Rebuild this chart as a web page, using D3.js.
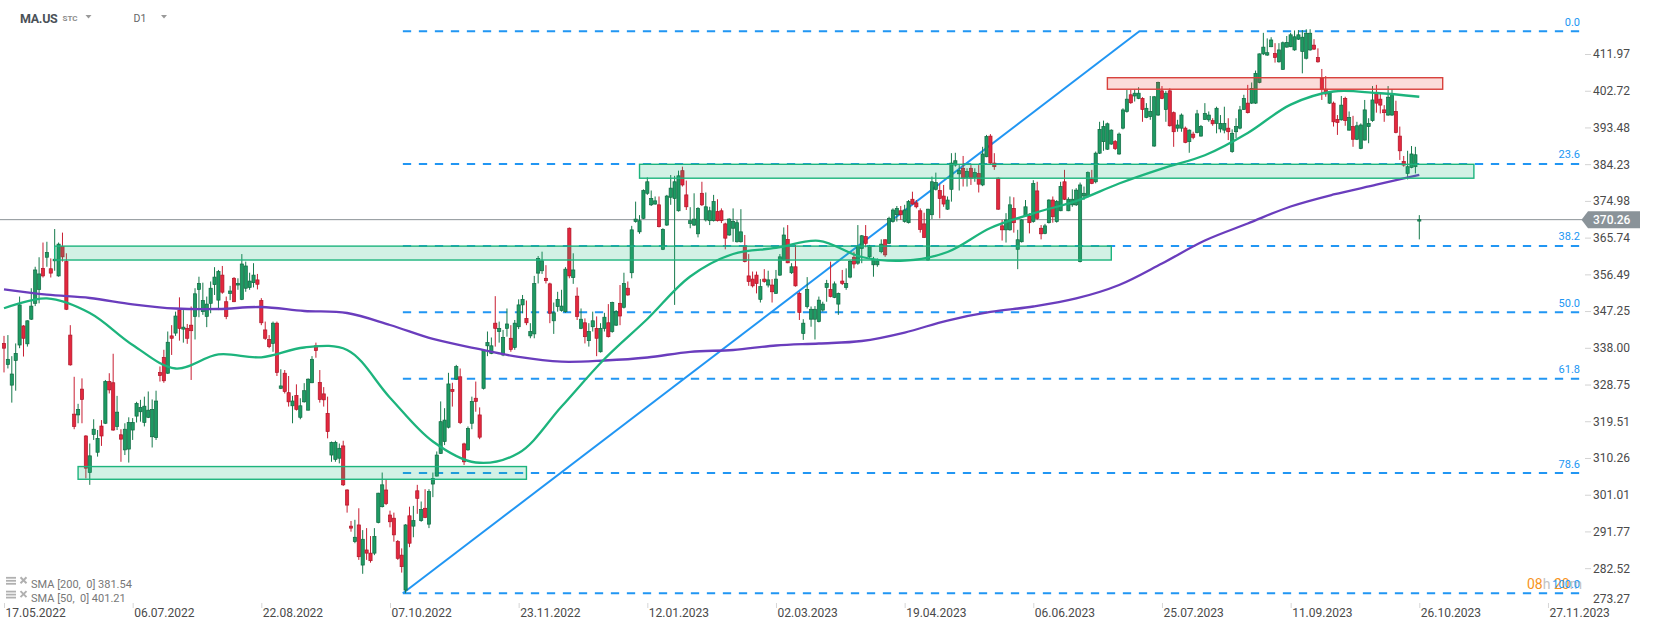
<!DOCTYPE html>
<html><head><meta charset="utf-8">
<script src="https://cdn.jsdelivr.net/npm/d3@7"></script>
<style>body{margin:0;background:#fff;overflow:hidden}svg{display:block;font-family:Roboto,"Noto Sans",Arial,sans-serif}</style>
</head><body><svg id="c" width="1653" height="630"></svg>
<script>
// ---- DATA ----
const open=[339.1,333.8,328.6,334.8,338.7,343.5,339.0,345.2,349.2,352.7,
358.0,360.8,357.9,359.9,356.1,363.5,359.7,341.2,321.3,321.1,
327.6,315.8,306.6,316.2,311.7,318.3,319.0,329.5,329.2,318.2,
316.1,312.3,312.5,317.3,320.8,321.9,319.2,320.5,315.6,315.4,
331.8,335.6,331.6,341.0,341.7,347.5,342.7,342.9,343.7,345.9,
352.7,347.1,345.9,349.2,353.9,350.0,356.3,349.6,351.7,355.5,
353.8,350.2,353.0,353.2,354.4,355.1,349.9,342.5,340.1,339.1,
344.2,327.8,331.6,326.7,323.4,326.0,320.5,324.4,322.3,329.2,
338.5,329.3,326.4,321.5,311.0,309.9,310.2,313.3,302.2,293.1,
289.2,293.4,283.3,287.1,286.3,286.3,294.0,298.0,302.2,295.9,
295.1,289.2,285.8,277.0,295.7,293.1,302.0,294.5,297.6,293.6,
303.7,305.7,311.4,314.4,318.0,327.5,330.1,330.7,313.8,312.3,
319.0,325.3,321.1,327.8,338.5,336.6,344.2,342.1,336.2,342.9,
340.4,338.1,343.3,348.8,345.4,341.0,341.5,356.8,357.4,355.5,
354.1,344.8,348.4,347.4,347.1,368.1,355.7,351.0,342.9,344.3,
339.8,343.3,342.9,337.0,342.9,344.3,342.1,343.7,349.2,348.2,
353.0,356.9,369.8,367.2,370.6,376.9,374.0,374.2,374.0,362.8,
368.9,375.9,375.6,372.5,382.6,376.5,369.3,368.9,366.7,376.9,
370.2,370.0,370.0,372.3,372.5,369.2,366.4,368.1,364.7,364.7,
363.5,356.1,355.3,356.3,350.2,355.3,353.8,353.8,351.7,356.3,
360.1,365.3,356.9,358.4,351.7,341.6,348.4,345.2,345.2,344.6,
347.5,353.2,352.7,350.7,349.0,354.8,353.2,355.8,360.8,359.3,
363.0,366.0,360.9,358.9,358.9,362.2,365.2,364.3,369.8,371.5,
372.5,369.8,369.5,375.4,374.5,372.5,369.2,360.1,371.5,377.9,
377.6,376.2,372.9,377.9,384.0,381.8,383.2,380.9,383.2,380.9,
381.9,379.0,386.1,391.3,384.5,380.7,368.7,367.7,367.7,373.1,
362.8,364.7,371.2,371.2,369.8,377.5,368.1,366.8,369.5,375.2,
369.8,372.5,379.8,372.5,374.0,374.0,359.7,376.2,376.1,380.4,
379.8,387.0,389.9,388.0,389.3,389.9,386.8,393.3,397.5,401.7,
401.4,400.8,400.8,396.0,396.2,388.8,396.6,402.7,398.0,402.7,
397.2,393.3,393.3,393.3,389.9,391.8,392.2,391.3,395.5,395.4,
395.2,394.5,393.1,392.8,393.3,387.4,392.4,393.3,398.0,399.6,
399.6,399.6,404.8,412.0,411.7,413.8,412.1,410.0,408.1,413.7,
413.8,413.0,415.7,412.6,410.9,413.0,414.2,411.1,405.9,403.1,
399.6,399.6,395.5,395.4,400.8,392.8,393.7,390.5,388.2,390.3,
393.7,395.2,401.9,400.6,397.9,396.6,396.6,397.5,391.3,384.9,
381.9,383.4,383.6,369.9];
const high=[341.0,341.2,335.9,339.1,350.9,343.7,344.9,353.0,358.4,360.8,
364.5,364.7,360.5,367.9,364.5,367.0,361.8,343.7,330.7,323.9,
330.3,316.0,313.9,320.0,317.3,319.8,329.9,331.6,336.5,325.9,
317.5,319.0,320.5,320.3,324.4,324.9,325.7,327.0,325.0,327.2,
333.3,337.5,342.1,343.7,347.1,350.7,347.5,344.0,348.4,353.0,
355.9,354.4,350.9,354.7,358.3,357.6,358.6,350.9,353.6,355.8,
355.5,361.6,359.7,356.9,359.3,356.6,350.5,344.6,341.2,344.6,
344.6,332.6,332.4,330.9,325.9,328.8,325.3,329.1,330.3,335.9,
339.3,332.4,328.1,325.7,314.4,314.6,313.9,314.6,302.4,294.4,
294.7,297.6,292.1,292.6,290.6,292.6,301.5,306.6,304.9,297.0,
296.5,289.6,287.5,293.6,298.0,298.2,303.5,299.3,302.4,302.4,
306.6,311.9,324.5,322.8,331.7,329.2,333.7,332.8,314.1,318.2,
325.7,329.5,323.0,337.6,342.1,340.6,351.0,344.6,342.5,347.9,
343.7,345.0,350.2,351.3,349.9,344.2,356.1,361.1,362.2,358.8,
354.4,349.4,352.1,352.6,358.3,368.3,361.8,353.2,347.9,345.4,
344.2,347.1,345.9,344.2,346.8,349.0,349.6,347.5,353.8,356.9,
354.7,368.7,374.8,371.4,377.9,380.9,377.6,376.1,376.1,368.1,
376.5,381.5,381.3,382.6,383.6,380.1,373.4,376.9,373.4,379.8,
377.1,373.5,376.5,375.4,373.1,369.5,370.6,373.1,370.2,372.9,
366.4,361.6,357.2,357.2,355.3,357.8,357.4,355.3,357.6,361.6,
368.3,368.9,359.3,363.9,352.1,345.2,355.8,348.4,348.5,350.9,
349.6,355.1,359.7,354.7,351.9,357.6,358.0,360.1,362.2,368.9,
366.4,368.9,363.9,360.9,360.5,365.3,365.3,371.0,373.1,373.7,
373.7,374.0,375.2,377.3,375.2,373.1,372.0,373.0,381.1,382.1,
379.2,379.0,376.1,387.0,387.1,384.0,386.3,383.2,384.0,383.2,
384.0,388.6,391.6,391.8,387.0,380.9,370.2,371.9,376.1,375.9,
367.7,370.4,375.2,371.9,380.2,379.8,368.9,369.2,375.4,376.1,
375.2,379.8,382.8,375.9,377.9,378.2,379.6,378.6,382.4,382.8,
387.4,394.9,395.2,394.7,393.0,390.3,392.2,398.3,402.9,402.9,
403.1,403.6,401.1,399.6,401.4,401.4,405.0,403.9,402.7,403.3,
397.5,395.4,397.0,393.7,393.0,392.4,397.9,394.1,399.6,397.5,
395.8,398.7,396.6,398.7,395.8,393.0,395.8,398.9,401.7,404.2,
404.8,407.8,412.1,417.3,415.9,416.2,414.7,414.7,415.1,416.5,
417.3,417.9,418.0,418.0,418.2,418.2,415.7,413.4,408.2,406.4,
402.5,400.0,396.6,401.4,401.2,397.5,396.4,394.9,394.5,400.4,
395.8,403.9,404.2,402.2,399.1,403.9,403.1,400.2,393.7,386.3,
387.6,388.8,388.6,371.4];
const low=[331.8,332.8,324.2,327.2,337.9,335.8,338.3,345.0,348.5,349.2,
355.7,358.4,355.7,357.4,355.9,359.7,347.5,333.5,317.5,319.0,
319.0,305.1,303.5,314.8,310.6,313.3,318.8,326.5,317.1,317.3,
309.3,311.0,309.1,314.8,319.2,319.4,318.2,320.3,312.9,314.8,
329.5,329.2,331.4,336.2,341.0,339.8,339.3,339.0,329.9,340.1,
345.7,346.3,343.2,346.7,351.3,347.5,351.6,345.2,350.0,349.5,
352.6,350.0,352.1,352.6,353.2,352.7,343.7,340.0,337.9,337.0,
330.9,327.6,326.5,323.2,319.0,322.2,320.0,324.2,322.2,329.1,
335.5,324.2,323.2,315.2,309.3,309.3,308.9,303.2,296.5,291.7,
288.8,284.6,281.1,284.6,283.9,285.8,293.8,297.8,298.4,292.8,
289.2,284.6,281.4,276.2,287.8,290.3,296.2,294.2,295.1,292.6,
300.4,305.6,311.3,313.5,317.7,323.2,329.9,318.8,308.5,312.1,
317.5,321.9,315.0,327.5,335.9,336.4,338.3,339.3,335.9,340.8,
337.0,337.5,342.7,346.7,343.7,340.4,340.4,354.2,356.6,354.2,
344.2,341.5,347.1,347.1,346.8,355.5,354.1,345.0,342.7,339.1,
338.3,342.1,335.9,336.8,342.1,340.6,341.8,343.5,343.7,347.9,
351.1,355.5,369.5,366.7,370.4,376.5,373.7,374.0,368.3,362.6,
368.7,374.0,348.8,372.3,378.6,372.7,368.1,368.7,365.8,373.7,
369.8,368.9,369.8,369.8,369.4,362.8,366.2,364.7,364.5,364.5,
359.5,353.6,353.2,351.7,349.4,354.4,353.2,349.4,351.6,356.1,
359.9,359.3,356.6,353.4,345.0,340.0,347.9,343.3,340.1,344.4,
347.1,349.6,350.7,350.5,346.3,353.8,352.6,355.5,358.0,358.9,
359.3,363.3,360.5,355.9,358.4,361.8,360.9,364.1,369.5,369.8,
370.2,369.5,369.3,374.0,373.1,367.0,365.7,359.9,370.4,377.6,
370.6,373.5,372.7,374.8,383.6,377.6,378.6,378.6,379.0,379.8,
377.1,378.7,386.0,384.3,382.8,372.7,365.0,364.5,367.5,367.0,
357.8,364.5,371.0,366.8,369.5,370.2,365.3,366.6,369.3,369.5,
369.5,372.4,375.2,372.4,373.5,373.7,359.5,375.2,375.9,379.2,
379.4,386.8,387.6,387.8,389.1,387.8,386.6,393.0,397.2,399.4,
400.0,400.6,394.9,395.8,395.4,388.6,396.4,400.6,394.9,393.7,
388.6,392.4,392.4,389.5,387.1,390.5,392.0,391.2,395.4,394.9,
393.9,392.0,392.2,392.0,390.3,387.1,390.8,393.0,397.9,397.0,
399.4,399.4,404.6,411.7,411.5,413.7,409.8,409.8,408.0,413.6,
413.7,412.8,415.5,407.1,410.6,412.8,413.0,409.8,400.4,401.2,
399.4,393.7,391.6,395.2,393.9,392.7,388.6,390.3,388.0,390.2,
389.5,394.9,397.2,397.0,394.9,396.4,396.4,392.0,385.3,383.6,
380.4,383.2,381.9,365.3];
const close=[337.9,335.1,331.4,336.6,348.8,340.4,344.8,348.5,357.6,356.6,
356.1,362.0,356.8,360.3,364.1,360.9,347.7,333.7,318.2,322.5,
325.0,307.7,310.8,317.5,315.2,315.8,329.5,327.4,317.3,321.8,
315.0,317.5,319.2,319.2,324.0,323.0,323.3,322.3,322.5,324.6,
331.0,329.7,339.4,340.4,346.0,342.9,343.2,340.4,342.3,351.6,
354.2,349.9,349.0,353.0,355.8,357.2,352.0,345.9,352.3,349.6,
354.2,359.1,358.6,354.8,356.3,354.0,344.3,340.4,338.3,344.2,
331.8,328.4,327.0,324.4,324.6,322.5,323.4,327.2,330.1,335.1,
337.3,325.0,324.9,316.9,314.2,314.2,312.7,303.5,298.4,292.6,
290.3,285.4,289.8,286.3,284.4,290.5,301.4,303.5,298.8,294.2,
290.9,285.0,282.9,293.4,288.8,294.5,300.1,297.3,295.3,301.8,
305.1,311.0,319.4,319.8,328.9,327.0,333.3,319.2,309.3,317.7,
324.5,324.5,315.5,337.3,339.3,338.5,342.9,342.9,340.6,344.0,
337.6,344.2,348.8,350.2,344.3,342.1,354.2,360.5,359.9,354.9,
346.7,346.8,350.2,348.5,357.8,356.1,357.6,345.9,345.2,340.8,
342.1,344.8,340.4,342.9,345.7,340.8,349.4,347.1,346.0,354.2,
351.3,367.7,370.4,370.0,377.6,379.8,375.6,375.0,368.5,367.8,
376.2,378.2,379.8,381.3,379.0,373.5,370.0,370.4,373.1,374.0,
373.5,372.5,374.8,370.0,370.0,365.6,370.4,369.8,369.5,367.2,
359.7,354.7,353.6,354.2,353.4,354.7,355.1,352.1,355.3,360.9,
366.4,359.4,358.4,353.6,346.9,344.2,352.7,347.7,347.7,350.0,
349.0,354.2,350.9,354.1,351.7,354.2,354.2,359.7,359.1,363.5,
366.2,364.3,363.6,360.3,359.9,364.1,361.4,370.6,372.7,373.1,
371.5,372.7,374.8,374.2,373.5,367.8,365.8,372.9,379.8,379.6,
375.6,374.2,375.2,384.5,385.1,382.6,380.7,382.4,380.7,382.1,
379.2,386.8,391.2,384.5,383.6,372.9,367.7,370.2,374.0,369.5,
365.2,370.2,373.5,369.5,379.4,370.6,366.7,368.7,375.2,371.0,
374.8,378.6,375.4,375.4,375.4,377.7,379.0,376.9,382.1,379.4,
387.0,393.0,393.7,394.4,392.8,388.2,391.8,397.9,400.6,399.7,
402.1,402.1,398.0,398.3,397.5,401.2,404.8,400.8,402.1,393.9,
392.4,394.1,396.6,389.7,392.8,391.0,396.9,393.7,397.0,396.6,
394.4,398.3,394.5,394.5,392.4,392.0,393.7,397.9,400.8,397.2,
403.3,407.1,412.0,413.7,412.3,415.5,411.1,413.0,414.8,414.9,
416.8,416.3,416.8,416.2,417.2,417.2,413.2,410.0,403.1,401.9,
402.1,394.9,394.7,399.1,395.2,396.0,390.5,393.9,394.1,397.9,
394.5,400.4,399.6,399.1,397.2,401.1,401.7,392.2,387.6,384.0,
383.6,386.8,386.6,370.26];

// SMA values read every 11 bars
const smaStep=11;
const sma200=[352.73,351.37,350.54,348.95,347.89,347.77,348.27,347.27,346.76,343.74,340.22,337.83,335.69,334.50,334.80,335.56,337.00,337.45,338.58,339.08,339.71,341.85,344.87,347.02,348.40,350.42,353.81,359.23,365.02,369.30,373.58,376.60,379.06,381.54];
const sma50=[347.95,350.44,346.76,338.71,332.79,336.32,335.61,338.08,337.45,325.44,314.41,309.12,311.52,323.20,335.18,345.25,355.95,361.62,363.13,364.94,360.86,359.93,362.12,368.16,371.86,374.96,379.37,383.12,386.47,392.08,399.23,402.53,402.15,401.21];

const yTicks=[411.97,402.72,393.48,384.23,374.98,365.74,356.49,347.25,338.00,328.75,319.51,310.26,301.01,291.77,282.52,273.27];
const dateLabels=["17.05.2022","06.07.2022","22.08.2022","07.10.2022","23.11.2022","12.01.2023","02.03.2023","19.04.2023","06.06.2023","25.07.2023","11.09.2023","26.10.2023","27.11.2023"];
const labelEvery=33;

const fibLevels=[0,23.6,38.2,50,61.8,78.6,100];
const fibLabels=["0.0","23.6","38.2","50.0","61.8","78.6","100.0"];
const fibHigh=417.68, fibLow=276.19, fibStartBar=102.3, fibEndBar=291.2;

const zoneFrom=[13,19,163,283];
const zoneTo=[284,134,377,369];
const zoneTop=[363.6,308.1,384.2,406.0];
const zoneBottom=[360.1,304.9,380.7,403.1];
const zoneKind=["support","support","support","resistance"];

const lastPrice=370.26;
const legendItems=["SMA [200,  0] 381.54","SMA [50,  0] 401.21"];

// ---- DRAW ----
const svg=d3.select("#c");
const n=open.length;
const x=d3.scaleLinear().domain([0,n-1]).range([4,1419.3]);
const y=d3.scaleLinear().domain([273.27,411.97]).range([604.9,54]);
const plotRight=1580;

const BLUE="#2196f3";
// fib lines
const gFib=svg.append("g");
fibLevels.forEach((lv,k)=>{
  const v=fibHigh-(fibHigh-fibLow)*lv/100;
  gFib.append("line").attr("x1",x(fibStartBar)).attr("x2",plotRight).attr("y1",y(v)).attr("y2",y(v))
    .attr("stroke",BLUE).attr("stroke-width",2).attr("stroke-dasharray","8.3,7.7");
});
// trend line
svg.append("line").attr("x1",x(fibStartBar)).attr("y1",y(fibLow)).attr("x2",x(fibEndBar)).attr("y2",y(fibHigh))
  .attr("stroke",BLUE).attr("stroke-width",2);

// current price line
svg.append("line").attr("x1",0).attr("x2",1582).attr("y1",y(lastPrice)).attr("y2",y(lastPrice))
  .attr("stroke","#8a9196").attr("stroke-width",1);

// candles
const gC=svg.append("g");
const idx=d3.range(n);
const up=i=>close[i]>=open[i];
gC.selectAll("line.w").data(idx).join("line").attr("class","w")
  .attr("x1",i=>x(i)).attr("x2",i=>x(i)).attr("y1",i=>y(high[i])).attr("y2",i=>y(low[i]))
  .attr("stroke",i=>up(i)?"#167a4c":"#c81f33").attr("stroke-width",1);
gC.selectAll("rect.b").data(idx).join("rect").attr("class","b")
  .attr("x",i=>x(i)-1.6).attr("width",3.2)
  .attr("y",i=>y(Math.max(open[i],close[i])))
  .attr("height",i=>Math.max(1,Math.abs(y(open[i])-y(close[i]))))
  .attr("fill",i=>up(i)?"#1e9a63":"#e3283e")
  .attr("stroke",i=>up(i)?"#0f6a42":"#ad1528").attr("stroke-width",0.7);

// SMA lines
const smaLine=d3.line().x((d,k)=>x(k*smaStep)).y(d=>y(d)).curve(d3.curveCatmullRom.alpha(0.5));
svg.append("path").attr("d",smaLine(sma200)).attr("fill","none").attr("stroke","#6a3dbd").attr("stroke-width",2.3);
svg.append("path").attr("d",smaLine(sma50)).attr("fill","none").attr("stroke","#1db47d").attr("stroke-width",2.3);

// zones
zoneFrom.forEach((f,k)=>{
  const res=zoneKind[k]==="resistance";
  svg.append("rect").attr("x",x(f)).attr("width",x(zoneTo[k])-x(f))
    .attr("y",y(zoneTop[k])).attr("height",y(zoneBottom[k])-y(zoneTop[k]))
    .attr("fill",res?"rgba(232,60,50,0.18)":"rgba(29,185,125,0.2)")
    .attr("stroke",res?"#d8413c":"#1db47d").attr("stroke-width",1.4);
});

// fib labels
fibLevels.forEach((lv,k)=>{
  const v=fibHigh-(fibHigh-fibLow)*lv/100;
  if(lv===100) return;
  svg.append("text").attr("x",1580).attr("y",y(v)-5.5).attr("text-anchor","end")
    .attr("font-size",11).attr("fill",BLUE).text(fibLabels[k]);
});

// watermark + 100.0 label (they overlap in the original too)
const wm=svg.append("text").attr("x",1527).attr("y",589).attr("font-size",14);
wm.append("tspan").attr("fill","#f7941d").text("08");
wm.append("tspan").attr("fill","#c3c3c3").text("h ");
wm.append("tspan").attr("fill","#f7941d").text("20");
wm.append("tspan").attr("fill","#c3c3c3").text("m");
svg.append("text").attr("x",1580).attr("y",y(fibLow)-5.5).attr("text-anchor","end")
  .attr("font-size",11).attr("fill",BLUE).text(fibLabels[6]);

// y axis
const gy=svg.append("g").attr("transform","translate(1585,0)")
  .call(d3.axisRight(y).tickValues(yTicks).tickFormat(d3.format(".2f")).tickSize(6).tickPadding(2));
gy.select(".domain").remove();
gy.selectAll("line").attr("stroke","#d3d3d3");
gy.selectAll("text").attr("font-size",12).attr("fill","#4a4a4a").attr("font-family","Roboto,sans-serif");
gy.selectAll(".tick").filter(d=>y(d)>600).attr("transform","translate(0,599.5)").select("line").remove();

// x axis
const gx=svg.append("g").attr("transform","translate(0,603)")
  .call(d3.axisBottom(x).tickValues(dateLabels.map((d,k)=>k*labelEvery)).tickFormat((d,k)=>dateLabels[k]).tickSize(5).tickPadding(0.5));
gx.select(".domain").remove();
gx.selectAll("line").attr("stroke","#d6d6d6");
gx.selectAll("text").attr("text-anchor","start").attr("x",1).attr("font-size",12).attr("fill","#4a4a4a").attr("font-family","Roboto,sans-serif");

// price flag
const py=y(lastPrice);
svg.append("path").attr("d",`M1581.5,${py} L1588,${py-8.5} L1640,${py-8.5} L1640,${py+8.5} L1588,${py+8.5} Z`).attr("fill","#8a9399");
svg.append("text").attr("x",1593).attr("y",py+4.3).attr("font-size",12).attr("font-weight",500).attr("fill","#ffffff").text(d3.format(".2f")(lastPrice));

// header
svg.append("text").attr("x",20).attr("y",22.5).attr("font-size",12.5).attr("font-weight",700).attr("fill","#4b5258").attr("letter-spacing",-0.3).text("MA.US");
svg.append("text").attr("x",62.5).attr("y",20.7).attr("font-size",8).attr("font-weight",700).attr("fill","#8c8c8c").text("STC");
svg.append("path").attr("d","M85.5,15 L91.5,15 L88.5,18.5 Z").attr("fill","#999");
svg.append("text").attr("x",133.5).attr("y",21.7).attr("font-size",10.5).attr("fill","#666").text("D1");
svg.append("path").attr("d","M161,15 L167,15 L164,18.5 Z").attr("fill","#999");

// legend
legendItems.forEach((t,k)=>{
  const cy=580.8+k*13.8;
  const g=svg.append("g");
  [-3,0,3].forEach(o=>g.append("line").attr("x1",6).attr("x2",16).attr("y1",cy+o).attr("y2",cy+o).attr("stroke","#b0b0b0").attr("stroke-width",1.8));
  g.append("line").attr("x1",20.5).attr("x2",26.5).attr("y1",cy-3.5).attr("y2",cy+2.5).attr("stroke","#b0b0b0").attr("stroke-width",2);
  g.append("line").attr("x1",26.5).attr("x2",20.5).attr("y1",cy-3.5).attr("y2",cy+2.5).attr("stroke","#b0b0b0").attr("stroke-width",2);
  g.append("text").attr("x",31).attr("y",cy+7.5).attr("font-size",11).attr("fill","#777").style("white-space","pre").text(t);
});
</script></body></html>
